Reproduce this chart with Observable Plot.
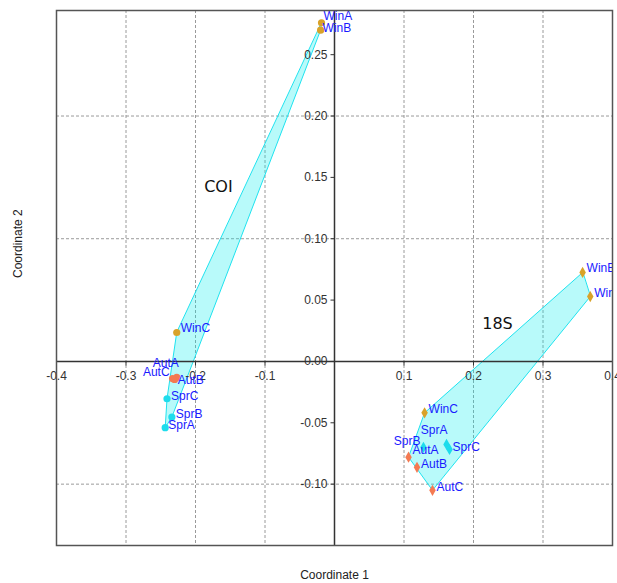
<!DOCTYPE html>
<html>
<head>
<meta charset="utf-8">
<script src="https://cdn.jsdelivr.net/npm/d3@7"></script>
<script src="https://cdn.jsdelivr.net/npm/@observablehq/plot@0.6"></script>
<style>
  body { margin: 0; background: #fff; }
  #chart svg { display: block; }
</style>
</head>
<body>
<div id="chart"></div>
<script>
// Sample names (season + replicate), shared by both markers
const samples = ["WinA", "WinB", "WinC", "AutA", "AutB", "AutC", "SprA", "SprB", "SprC"];

// PCoA coordinates, COI marker
const coiX = [-0.0187, -0.0200, -0.2270, -0.2270, -0.2300, -0.2330, -0.2436, -0.2340, -0.2410];
const coiY = [0.2760, 0.2700, 0.0236, -0.0130, -0.0147, -0.0140, -0.0540, -0.0453, -0.0304];

// PCoA coordinates, 18S marker
const s18X = [0.3680, 0.3570, 0.1296, 0.1065, 0.1187, 0.1410, 0.1612, 0.1280, 0.1655];
const s18Y = [0.0529, 0.0725, -0.0419, -0.0780, -0.0863, -0.1050, -0.0676, -0.0700, -0.0717];

// Axis ticks and grid
const xTicks = [-0.4, -0.3, -0.2, -0.1, 0.1, 0.2, 0.3, 0.4];
const yTicks = [-0.10, -0.05, 0.00, 0.05, 0.10, 0.15, 0.20, 0.25];
const xGrid = [-0.3, -0.2, -0.1, 0.1, 0.2, 0.3];
const yGrid = [-0.1, 0.1, 0.2];

// Marker group names and where they are written
const groupNames = ["COI", "18S"];
const groupX = [-0.167, 0.2345];
const groupY = [0.1425, 0.031];

const seasonColor = {
  domain: ["Win", "Aut", "Spr"],
  range: ["#d9a229", "#f47a52", "#1edcec"]
};

function rows(xs, ys, gene) {
  return samples.map((name, i) => ({name, season: name.slice(0, 3), gene, x: xs[i], y: ys[i]}));
}
const coi = rows(coiX, coiY, "COI");
const s18 = rows(s18X, s18Y, "18S");

// Convex hull of each marker's samples
function hull(pts) {
  return d3.polygonHull(pts.map(d => [d.x, d.y])).map(([x, y]) => ({x, y}));
}

// Label placement around each point: [dx, dy, anchor]
const nudge = {
  COI: {
    WinA: [2, -7, "start"], WinB: [2, -2, "start"], WinC: [4, -4, "start"],
    AutA: [2, -14, "end"], AutB: [3, 1, "start"], AutC: [-3, -6, "end"],
    SprA: [3, -3, "start"], SprB: [4, -3, "start"], SprC: [4, -3, "start"]
  },
  "18S": {
    WinA: [4, -3, "start"], WinB: [4, -4, "start"], WinC: [4, -4, "start"],
    AutA: [4, -7, "start"], AutB: [4, -3, "start"], AutC: [4, -3, "start"],
    SprA: [1, -14, "end"], SprB: [-3, -6, "end"], SprC: [3, -2, "start"]
  }
};

const labelMarks = [...coi, ...s18].map(d => {
  const [dx, dy, anchor] = nudge[d.gene][d.name];
  return Plot.text([d], {
    x: "x", y: "y", text: "name", dx, dy, textAnchor: anchor,
    fill: "#1a1aff", fontSize: 12, clip: true
  });
});

// Short tick strokes drawn as custom symbols
const tickDown = {draw(ctx) { ctx.moveTo(0, 0); ctx.lineTo(0, 4); }};
const tickLeft = {draw(ctx) { ctx.moveTo(0, 0); ctx.lineTo(-4, 0); }};

const chart = Plot.plot({
  width: 617,
  height: 583,
  marginLeft: 56,
  marginRight: 5,
  marginTop: 10,
  marginBottom: 38,
  x: {domain: [-0.4, 0.4], axis: null},
  y: {domain: [-0.15, 0.286], axis: null},
  color: seasonColor,
  style: {fontFamily: "'Liberation Sans', Arial, sans-serif", fontSize: "12px", background: "#fff"},
  marks: [
    Plot.ruleX(xGrid, {stroke: "#9a9a9a", strokeDasharray: "3,2", strokeWidth: 1}),
    Plot.ruleY(yGrid, {stroke: "#9a9a9a", strokeDasharray: "3,2", strokeWidth: 1}),

    Plot.line(hull(coi), {x: "x", y: "y", curve: "linear-closed", fill: "#00eeee", fillOpacity: 0.28, stroke: "#1fe3ef", strokeWidth: 1}),
    Plot.line(hull(s18), {x: "x", y: "y", curve: "linear-closed", fill: "#00eeee", fillOpacity: 0.28, stroke: "#1fe3ef", strokeWidth: 1}),

    Plot.ruleX([0], {stroke: "#333", strokeWidth: 1.5}),
    Plot.ruleY([0], {stroke: "#333", strokeWidth: 1.5}),
    Plot.dot(xTicks, {x: d => d, y: () => 0, symbol: tickDown, r: 4, fill: "none", stroke: "#333", strokeWidth: 1}),
    Plot.dot(yTicks, {x: () => 0, y: d => d, symbol: tickLeft, r: 4, fill: "none", stroke: "#333", strokeWidth: 1}),
    Plot.text(xTicks, {x: d => d, y: () => 0, text: d => d.toFixed(1), dy: 15, fill: "#333", fontSize: 12}),
    Plot.text(yTicks, {x: () => 0, y: d => d, text: d => d.toFixed(2), dx: -7, textAnchor: "end", fill: "#333", fontSize: 12}),

    Plot.dot(coi, {x: "x", y: "y", fill: "season", r: 3.6, symbol: "circle"}),
    Plot.dot(s18, {x: "x", y: "y", fill: "season", r: 3.4, symbol: "diamond"}),

    ...labelMarks,

    Plot.text(groupNames, {x: (d, i) => groupX[i], y: (d, i) => groupY[i], text: d => d, fontFamily: "'DejaVu Sans', sans-serif", fontSize: 16, fill: "#111"}),

    Plot.frame({stroke: "#555", strokeWidth: 1.5}),

    Plot.text(["Coordinate 1"], {frameAnchor: "bottom", dy: 33, fill: "#222", fontSize: 12}),
    Plot.text(["Coordinate 2"], {frameAnchor: "left", dx: -38, rotate: -90, fill: "#222", fontSize: 12})
  ]
});

document.getElementById("chart").append(chart);
</script>
</body>
</html>
